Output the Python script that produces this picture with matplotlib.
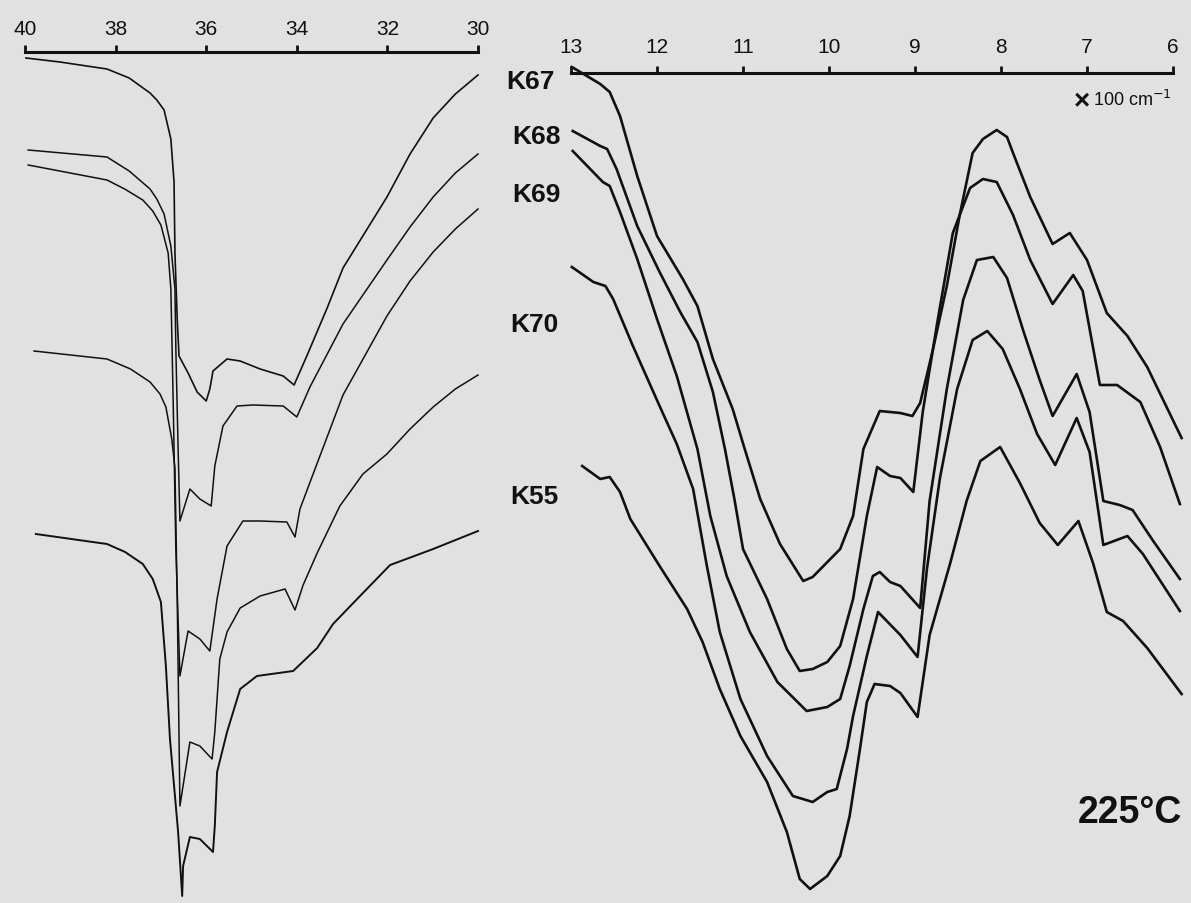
import matplotlib
matplotlib.use("Agg")
import matplotlib.pyplot as plt

# Wavenumbers in units of 100 cm^-1; transmittance in arbitrary chart units.
samples = ["K67", "K68", "K69", "K70", "K55"]

# ---- 4000-3000 cm^-1 region ----
k67_hi_w = [39.98, 39.23, 38.19, 37.70, 37.24, 37.09, 36.93, 36.78, 36.71, 36.69, 36.64,
            36.60, 36.40, 36.20, 36.00, 35.92, 35.85, 35.54, 35.25, 34.81, 34.30, 34.06,
            33.77, 33.33, 32.98, 32.01, 31.50, 30.99, 30.50, 30.00]
k67_hi_t = [84.1, 83.7, 83.0, 82.1, 80.6, 79.9, 78.9, 76.0, 71.7, 64.6, 58.0,
            54.3, 52.6, 50.7, 49.8, 51.0, 52.8, 54.0, 53.8, 53.0, 52.3, 51.4,
            54.4, 59.1, 63.1, 70.2, 74.5, 78.1, 80.5, 82.4]

k68_hi_w = [39.93, 38.19, 37.70, 37.24, 37.09, 36.93, 36.78, 36.69, 36.67, 36.62, 36.58,
            36.36, 36.14, 35.89, 35.81, 35.63, 35.32, 34.97, 34.30, 34.00, 33.71, 32.98,
            32.01, 31.50, 30.99, 30.50, 30.00]
k68_hi_t = [74.9, 74.2, 72.8, 71.0, 70.0, 68.5, 65.3, 61.0, 55.0, 45.0, 37.8,
            41.0, 40.0, 39.3, 43.3, 47.3, 49.3, 49.4, 49.3, 48.2, 51.2, 57.5,
            63.9, 67.2, 70.2, 72.6, 74.5]

k69_hi_w = [39.93, 38.19, 37.80, 37.40, 37.18, 37.00, 36.84, 36.78, 36.73, 36.67, 36.58,
            36.40, 36.14, 35.92, 35.76, 35.54, 35.19, 34.81, 34.22, 34.04, 33.93, 33.64,
            32.98, 32.01, 31.50, 30.99, 30.50, 30.00]
k69_hi_t = [73.4, 71.9, 71.0, 69.9, 68.8, 67.4, 64.6, 61.0, 50.0, 35.0, 22.3,
            26.8, 26.0, 24.8, 30.0, 35.3, 37.8, 37.8, 37.7, 36.2, 39.0, 42.5,
            50.4, 58.3, 61.8, 64.7, 67.0, 69.0]

k70_hi_w = [39.80, 38.19, 37.67, 37.24, 37.02, 36.89, 36.76, 36.69, 36.64, 36.58, 36.36,
            36.14, 35.87, 35.81, 35.70, 35.54, 35.25, 34.81, 34.26, 34.04, 33.86, 33.55,
            33.05, 32.54, 32.01, 31.50, 30.99, 30.50, 30.00]
k70_hi_t = [54.8, 54.0, 53.0, 51.7, 50.5, 49.2, 46.0, 43.1, 30.0, 9.3, 15.7,
            15.3, 14.0, 16.7, 24.0, 26.7, 29.1, 30.3, 31.0, 28.9, 31.4, 34.6,
            39.3, 42.5, 44.5, 47.0, 49.2, 51.0, 52.4]

k55_hi_w = [39.76, 38.19, 37.79, 37.40, 37.18, 37.00, 36.89, 36.80, 36.62, 36.53, 36.51,
            36.36, 36.14, 35.85, 35.81, 35.76, 35.54, 35.25, 34.88, 34.08, 33.55, 33.20,
            32.54, 31.94, 30.99, 30.00]
k55_hi_t = [36.5, 35.5, 34.7, 33.5, 32.0, 29.7, 23.3, 16.0, 6.7, 0.3, 3.3,
            6.2, 6.0, 4.7, 7.3, 12.7, 16.7, 21.0, 22.3, 22.8, 25.1, 27.5,
            30.6, 33.4, 35.0, 36.8]

# ---- 1300-600 cm^-1 region ----
k67_lo_w = [12.99, 12.66, 12.55, 12.43, 12.23, 12.00, 11.70, 11.53, 11.35, 11.12, 10.98,
            10.80, 10.57, 10.30, 10.19, 9.87, 9.72, 9.60, 9.41, 9.17, 9.03, 8.94, 8.79,
            8.63, 8.48, 8.33, 8.21, 8.05, 7.93, 7.86, 7.66, 7.40, 7.20, 7.00, 6.77, 6.53,
            6.30, 5.90]
k67_lo_t = [83.2, 81.5, 80.7, 78.3, 72.3, 66.3, 62.0, 59.3, 54.0, 49.0, 45.0,
            40.0, 35.5, 31.8, 32.2, 35.0, 38.3, 45.0, 48.8, 48.6, 48.3, 49.6, 55.0,
            61.3, 68.4, 74.6, 76.0, 76.9, 76.2, 74.6, 70.2, 65.5, 66.6, 63.9, 58.6, 56.3,
            53.2, 46.1]

k68_lo_w = [12.98, 12.66, 12.58, 12.47, 12.23, 11.97, 11.73, 11.53, 11.35, 11.21, 11.10,
            11.00, 10.72, 10.49, 10.34, 10.19, 10.02, 9.87, 9.72, 9.56, 9.44, 9.29, 9.17,
            9.02, 8.91, 8.74, 8.56, 8.36, 8.21, 8.05, 7.86, 7.66, 7.40, 7.16, 7.05, 6.85,
            6.65, 6.38, 6.15, 5.92]
k68_lo_t = [76.8, 75.3, 75.0, 73.0, 67.3, 62.7, 58.7, 55.7, 50.7, 45.0, 40.0,
            35.0, 30.0, 25.0, 22.8, 23.0, 23.7, 25.3, 30.0, 38.3, 43.2, 42.3, 42.1,
            40.7, 48.7, 57.7, 66.6, 71.1, 72.0, 71.7, 68.4, 63.9, 59.5, 62.4, 60.8, 51.4,
            51.4, 49.7, 45.2, 39.5]

k69_lo_w = [12.98, 12.63, 12.55, 12.43, 12.23, 12.00, 11.77, 11.53, 11.38, 11.19, 10.92,
            10.60, 10.26, 10.02, 9.87, 9.76, 9.60, 9.49, 9.41, 9.29, 9.17, 8.94, 8.83,
            8.63, 8.44, 8.28, 8.09, 7.93, 7.74, 7.55, 7.40, 7.12, 6.97, 6.81, 6.62, 6.47,
            6.23, 5.92]
k69_lo_t = [74.8, 71.7, 71.3, 68.7, 64.0, 58.0, 52.3, 45.0, 38.3, 32.3, 26.7,
            21.7, 18.8, 19.2, 20.0, 23.3, 29.0, 32.3, 32.7, 31.7, 31.3, 29.1, 39.8,
            51.0, 59.9, 63.9, 64.2, 62.1, 56.8, 51.9, 48.3, 52.5, 48.7, 39.8, 39.4, 38.9,
            35.8, 32.0]

k70_lo_w = [12.99, 12.74, 12.60, 12.51, 12.28, 11.97, 11.77, 11.58, 11.42, 11.27, 11.03,
            10.72, 10.42, 10.19, 10.02, 9.91, 9.79, 9.72, 9.56, 9.43, 9.17, 8.97, 8.86,
            8.71, 8.51, 8.33, 8.16, 7.98, 7.78, 7.58, 7.37, 7.12, 6.97, 6.81, 6.53, 6.35, 5.92]
k70_lo_t = [63.2, 61.7, 61.3, 60.0, 55.3, 49.3, 45.5, 41.0, 33.3, 26.7, 20.0,
            14.3, 10.3, 9.7, 10.7, 11.0, 15.0, 18.3, 24.3, 28.7, 26.4, 24.2, 33.1,
            42.1, 51.0, 55.9, 56.8, 55.0, 51.0, 46.5, 43.4, 48.1, 44.7, 35.4, 36.3, 34.5, 28.8]

k55_lo_w = [12.87, 12.66, 12.55, 12.43, 12.31, 11.97, 11.65, 11.47, 11.27, 11.03, 10.72,
            10.49, 10.34, 10.22, 10.02, 9.87, 9.76, 9.64, 9.56, 9.47, 9.29, 9.17, 8.97,
            8.83, 8.59, 8.40, 8.24, 8.01, 7.78, 7.55, 7.34, 7.10, 6.93, 6.77, 6.58, 6.30, 5.90]
k55_lo_t = [43.3, 42.0, 42.2, 40.7, 38.0, 33.3, 29.0, 25.7, 21.0, 16.3, 11.7,
            6.7, 2.0, 1.0, 2.3, 4.3, 8.3, 15.0, 19.7, 21.5, 21.3, 20.6, 18.2,
            26.4, 33.6, 39.8, 43.8, 45.2, 41.6, 37.6, 35.4, 37.8, 33.6, 28.7, 27.8, 25.1, 20.5]

hi_ticks = [40, 38, 36, 34, 32, 30]
lo_ticks = [13, 12, 11, 10, 9, 8, 7, 6]

hi_series = [(k67_hi_w, k67_hi_t), (k68_hi_w, k68_hi_t), (k69_hi_w, k69_hi_t),
             (k70_hi_w, k70_hi_t), (k55_hi_w, k55_hi_t)]
lo_series = [(k67_lo_w, k67_lo_t), (k68_lo_w, k68_lo_t), (k69_lo_w, k69_lo_t),
             (k70_lo_w, k70_lo_t), (k55_lo_w, k55_lo_t)]

BG = "#e1e1e1"
INK = "#111111"
W, H = 1191, 904

plt.rcParams["font.family"] = ["Liberation Sans", "DejaVu Sans"]

fig = plt.figure(figsize=(W / 100, H / 100), dpi=100, facecolor=BG)
ax_hi = fig.add_axes([25 / W, 0, (478 - 25) / W, 1])
ax_lo = fig.add_axes([571 / W, 0, (1173 - 571) / W, 1])

for ax, xlim, ticks, spine_y, pad in ((ax_hi, (40, 30), hi_ticks, 84.7, 5),
                                      (ax_lo, (13, 6), lo_ticks, 82.6, 7)):
    ax.set_facecolor("none")
    ax.set_xlim(*xlim)
    ax.set_ylim(-0.4, 90)
    for side in ("left", "right", "bottom"):
        ax.spines[side].set_visible(False)
    ax.spines["top"].set_position(("data", spine_y))
    ax.spines["top"].set_linewidth(2.2)
    ax.spines["top"].set_color(INK)
    ax.xaxis.set_ticks_position("top")
    ax.set_xticks(ticks)
    ax.set_xticklabels([str(t) for t in ticks])
    ax.tick_params(axis="x", direction="out", length=5, width=2, pad=pad,
                   labelsize=15, colors=INK)
    ax.yaxis.set_visible(False)

hi_widths = [1.2, 1.1, 1.1, 1.1, 1.4]
for (w, t), lw in zip(hi_series, hi_widths):
    ax_hi.plot(w, t, color=INK, lw=lw, solid_joinstyle="round", clip_on=False)

for w, t in lo_series:
    ax_lo.plot(w, t, color=INK, lw=1.9, solid_joinstyle="round", clip_on=False)

# sample labels between the two panels
label_pos = [(530, 82), (536, 137), (536, 195), (534, 325), (534, 497)]
for name, (px, py) in zip(samples, label_pos):
    fig.text(px / W, 1 - py / H, name, ha="center", va="center",
             fontsize=19, fontweight="bold", color=INK)

fig.text(1090 / W, 1 - 101 / H, "\u00d7", ha="right", va="center",
         fontsize=20, fontweight="bold", color=INK)
fig.text(1093 / W, 1 - 100 / H, "100 cm$^{-1}$", ha="left", va="center",
         fontsize=13, color=INK)
fig.text(1130 / W, 1 - 813 / H, "225\u00b0C", ha="center", va="center",
         fontsize=27, fontweight="bold", color=INK)

fig.savefig("out.png", dpi=100, facecolor=BG)
